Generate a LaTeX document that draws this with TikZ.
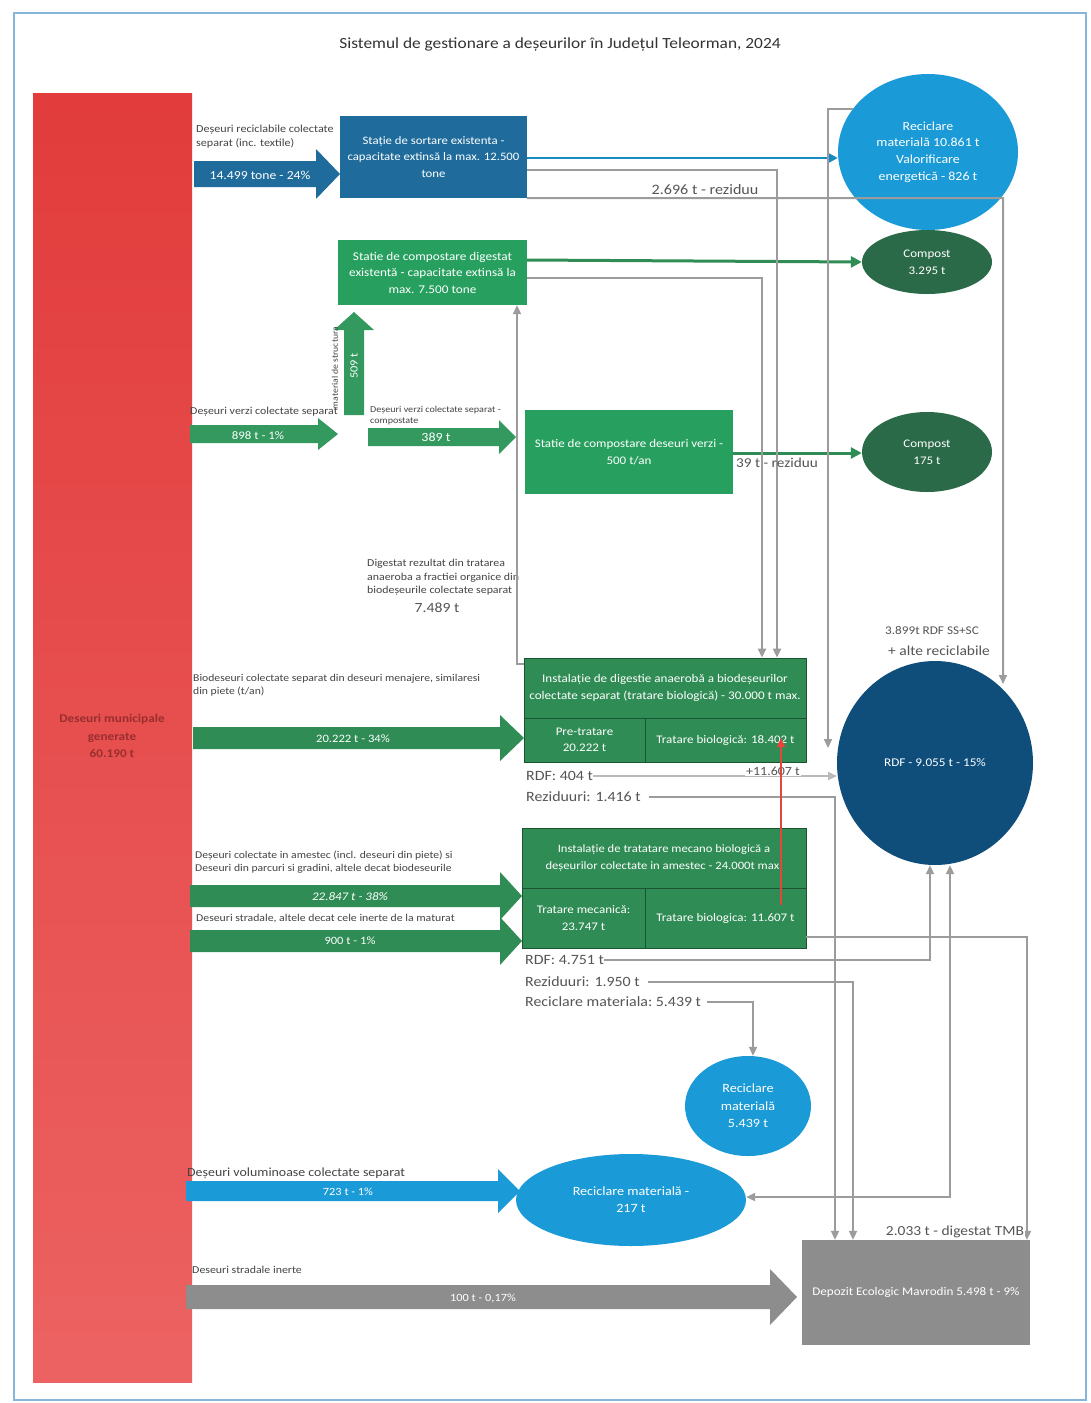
\documentclass[tikz,border=0pt]{standalone}
\usepackage{fontspec}
\setmainfont{Carlito}[FakeStretch=1.12]
\usetikzlibrary{shapes.geometric,arrows.meta,calc}
\definecolor{redA}{HTML}{E23C3C}
\definecolor{redB}{HTML}{EC6262}
\definecolor{redtxt}{HTML}{9A2E2E}
\definecolor{dkblue}{HTML}{1F6C9C}
\definecolor{ltblue}{HTML}{1A9AD6}
\definecolor{rdfblue}{HTML}{0F4E7B}
\definecolor{grA}{HTML}{27A05F}
\definecolor{grB}{HTML}{2F8C54}
\definecolor{grArrow}{HTML}{33995E}
\definecolor{grDark}{HTML}{2B6A48}
\definecolor{grayBox}{HTML}{8D8D8D}
\definecolor{conn}{HTML}{9C9C9C}
\definecolor{lbl}{HTML}{555555}
\definecolor{redArr}{HTML}{E5463C}
\definecolor{frame}{HTML}{86B6DA}
\newcommand{\fatarrowh}[7]{%
  \fill[#1] (#2,#5-#6) -- (#3,#5-#6) -- (#3,#5-#7) -- (#4,#5) -- (#3,#5+#7) -- (#3,#5+#6) -- (#2,#5+#6) -- cycle;}
\newcommand{\fs}[2]{\fontsize{#1}{#2}\selectfont}
\begin{document}
\begin{tikzpicture}[x=1pt,y=-1pt,
  boxtxt/.style={text=white,align=center,font=\fs{11.6}{16.5},inner sep=0pt},
  circ/.style={ellipse,inner sep=0pt,text=white,align=center,font=\fs{12.4}{16.7}},
  small/.style={text=lbl!80!black,font=\fs{10.6}{13.5},inner sep=0pt,align=left},
  flow/.style={text=lbl,font=\fs{14.2}{16},inner sep=0pt},
  arrtxt/.style={text=white,font=\fs{11.4}{13},inner sep=0pt},
  cline/.style={draw=conn,line width=2pt},
  carr/.style={cline,-{Triangle[width=8pt,length=9pt]}},
  cab/.style={cline,{Triangle[width=8pt,length=9pt]}-{Triangle[width=8pt,length=9pt]}},
  cell/.style={draw=grB!60!black,line width=0.8pt,fill=grB,inner sep=0pt,text=white,align=center,font=\fs{11.6}{16.5}}
]
\useasboundingbox (0,0) rectangle (1090,1403);
\fill[white] (0,0) rectangle (1090,1403);
\draw[frame,line width=1.6pt] (14,13) rectangle (1086,1400);

% title
\node[text=black!80,font=\fs{15.5}{18}] (title) at (560,45) {Sistemul de gestionare a deșeurilor în Județul Teleorman, 2024};

% red bar
\node[rectangle,minimum width=159pt,minimum height=1289pt,inner sep=0pt,top color=redA,bottom color=redB,draw=none] (bar) at (112.5,737.5) {};
\node[text=redtxt,align=center,font=\bfseries\fs{11.8}{17.5}] (bartext) at (112,736) {Deseuri municipale\\generate\\60.190 t};

% ---------- boxes ----------
\node[rectangle,fill=dkblue,minimum width=187pt,minimum height=82pt,boxtxt,font=\fs{11.4}{16.5}] (sort) at (433.5,157) {Stație de sortare existenta -\\capacitate extinsă la max. 12.500\\tone};
\node[rectangle,fill=grA,minimum width=189pt,minimum height=65pt,boxtxt,font=\fs{11.8}{16.5}] (dig) at (432.5,272.5) {Statie de compostare digestat\\existentă - capacitate extinsă la\\max. 7.500 tone};
\node[rectangle,fill=grA,minimum width=208pt,minimum height=84pt,boxtxt] (verzi) at (629,452) {Statie de compostare deseuri verzi -\\500 t/an};

% anaerobic digestion
\node[cell,minimum width=282pt,minimum height=60pt,font=\fs{11.7}{17}] (ad) at (665,688) {Instalație de digestie anaerobă a biodeșeurilor\\colectate separat (tratare biologică) - 30.000 t max.};
\node[cell,minimum width=121pt,minimum height=44pt] (pre) at (584.5,740) {Pre-tratare\\20.222 t};
\node[cell,minimum width=161pt,minimum height=44pt] (bio1) at (725.5,740) {Tratare biologică: 18.402 t};

% TMB
\node[cell,minimum width=284pt,minimum height=60pt,font=\fs{11.3}{16.5}] (tmb) at (664,858) {Instalație de tratatare mecano biologică a\\deșeurilor colectate in amestec - 24.000t max.};
\node[cell,minimum width=123pt,minimum height=60pt] (mec) at (583.5,918) {Tratare mecanică:\\23.747 t};
\node[cell,minimum width=161pt,minimum height=60pt] (bio2) at (725.5,918) {Tratare biologica: 11.607 t};

% depozit
\node[rectangle,fill=grayBox,minimum width=228pt,minimum height=105pt,boxtxt,font=\fs{11.7}{14}] (dep) at (916,1292.5) {Depozit Ecologic Mavrodin 5.498 t - 9\%};

% ---------- circles ----------
\node[circ,fill=ltblue,minimum width=180pt,minimum height=156pt] (rec1) at (928,152) {Reciclare\\materială 10.861 t\\Valorificare\\energetică - 826 t};
\node[circ,fill=grDark,minimum width=130pt,minimum height=64pt,font=\fs{11.6}{17}] (comp1) at (927,262) {Compost\\3.295 t};
\node[circ,fill=grDark,minimum width=130pt,minimum height=80pt,font=\fs{11.6}{17}] (comp2) at (927,452) {Compost\\175 t};
\node[circ,fill=rdfblue,minimum width=196pt,minimum height=204pt,font=\fs{11.8}{14}] (rdf) at (935,763) {RDF - 9.055 t - 15\%};
\node[circ,fill=ltblue,minimum width=126pt,minimum height=100pt,font=\fs{12.6}{17.5}] (rec2) at (748,1106) {Reciclare\\materială\\5.439 t};
\node[circ,fill=ltblue,minimum width=230pt,minimum height=92pt,font=\fs{12.6}{17}] (rec3) at (631,1200) {Reciclare materială -\\217 t};

% ---------- fat arrows ----------
\fatarrowh{dkblue}{194}{316}{340}{174}{13}{25}
\node[arrtxt,font=\fs{12.2}{14}] (a1) at (260,175) {14.499 tone - 24\%};
\node[small,anchor=north west,font=\fs{10.8}{13.5}] (a1l) at (196,125) {Deșeuri reciclabile colectate\\separat (inc. textile)};

% upward arrow 509 t
\fill[grArrow] (344,415) -- (344,330) -- (334,330) -- (354,312) -- (374,330) -- (364,330) -- (364,415) -- cycle;
\node[arrtxt,rotate=90,font=\fs{11}{13}] (a2) at (354,366) {509 t};
\node[small,rotate=90,font=\fs{8.6}{10}] (a2l) at (335,368) {material de structura};

\fatarrowh{grArrow}{190}{318}{338}{434}{9}{16}
\node[arrtxt,font=\fs{11.5}{13}] (a3) at (258,436) {898 t - 1\%};
\node[small,font=\fs{10.6}{12},anchor=west] (a3l) at (190,412) {Deșeuri verzi colectate separat};

\fatarrowh{grArrow}{368}{499}{516}{437}{9}{17}
\node[arrtxt,font=\fs{12.5}{13}] (a4) at (436,437) {389 t};
\node[small,anchor=north west,font=\fs{9}{11.5}] (a4l) at (370,406) {Deșeuri verzi colectate separat -\\compostate};

\fatarrowh{grB}{193}{500}{524}{738}{11}{23}
\node[arrtxt,font=\fs{11.3}{13}] (a5) at (353,739) {20.222 t - 34\%};
\node[small,anchor=north west,font=\fs{10.4}{13}] (a5l) at (193,674) {Biodeseuri colectate separat din deseuri menajere, similaresi\\din piete (t/an)};

\fatarrowh{grB}{190}{500}{522}{896}{11}{24}
\node[arrtxt,font=\itshape\fs{11.6}{13}] (a6) at (350,897) {22.847 t - 38\%};
\node[small,anchor=north west,font=\fs{10.4}{13}] (a6l) at (195,851) {Deșeuri colectate in amestec (incl. deseuri din piete) si\\Deseuri din parcuri si gradini, altele decat biodeseurile};

\fatarrowh{grB}{190}{500}{522}{941}{11}{24}
\node[arrtxt,font=\fs{11.2}{13}] (a7) at (350,941) {900 t - 1\%};
\node[small,anchor=west,font=\fs{10.5}{12}] (a7l) at (196,919) {Deseuri stradale, altele decat cele inerte de la maturat};

\fatarrowh{ltblue}{186}{498}{520}{1191}{10}{22}
\node[arrtxt,font=\fs{11}{13}] (a8) at (348,1192) {723 t - 1\%};
\node[small,anchor=west,font=\fs{12.4}{14}] (a8l) at (187,1173) {Deșeuri voluminoase colectate separat};

\fatarrowh{grayBox}{186}{770}{797}{1297}{12}{28}
\node[arrtxt,font=\fs{11}{13}] (a9) at (483,1298) {100 t - 0,17\%};
\node[small,anchor=west,font=\fs{10.6}{12}] (a9l) at (192,1270) {Deseuri stradale inerte};

% ---------- colored thin arrows ----------
\draw[draw=ltblue!90!black,line width=2.6pt,-{Triangle[width=10pt,length=10pt]}] (sort.east |- 0,158) -- (rec1.west |- 0,158);
\draw[draw=grB,line width=3pt,-{Triangle[width=11pt,length=11pt]}] (dig.east |- 0,260) -- (comp1.west);
\draw[draw=grB,line width=3pt,-{Triangle[width=11pt,length=11pt]}] (verzi.east |- 0,453) -- (comp2.west |- 0,453);

% ---------- text labels for flows ----------
\node[flow,anchor=west] (rdf404) at (526,776) {RDF: 404 t};
\node[flow,anchor=west] (rez1416) at (526,797) {Reziduuri: 1.416 t};
\node[flow,anchor=west] (rdf4751) at (525,960) {RDF: 4.751 t};
\node[flow,anchor=west] (rez1950) at (525,982) {Reziduuri: 1.950 t};
\node[flow,anchor=west] (recmat) at (525,1002) {Reciclare materiala:\ 5.439 t};
\node[small,anchor=north west,font=\fs{10.6}{13.5}] (digl) at (367,559) {Digestat rezultat din tratarea\\anaeroba a fractiei organice din\\biodeșeurile colectate separat};
\node[flow,font=\fs{14}{16}] (digt) at (437,608) {7.489 t};
\node[flow,font=\fs{11.8}{14}] (rdfl1) at (932,631) {3.899t RDF SS+SC};
\node[flow,font=\fs{13.8}{16}] (rdfl2) at (939,651) {+ alte reciclabile};

% ---------- gray connectors ----------
\draw[carr] (sort.east |- 0,170) -- (777,170) -- (777,0 |- ad.north);
\draw[carr] (sort.south east) -- (1003,198) -- (1003,684);
\node[flow,fill=white,inner sep=1pt,font=\fs{14.4}{16}] (l2696) at (705,190) {2.696 t - reziduu};
\draw[carr] (dig.east |- 0,278) -- (762,278) -- (762,0 |- ad.north);
\draw[carr] (rec1.150) -- (828,0 |- rec1.150) -- (828,748);
\draw[carr] (ad.west |- 0,664) -- (517,664) -- (517,0 |- dig.south);
\draw[carr,draw=conn!70] (rdf404.east) -- (837,776);
\node[flow,font=\fs{12.5}{14},fill=white,inner sep=1pt] (l11607) at (773,771) {+11.607 t};
\draw[carr] (rez1416.east) ++(8,0) -- (835,797) -- (835,0 |- dep.north);
\draw[carr] (rdf4751.east) -- (930,960) -- (930,0 |- rdf.south);
\draw[carr] (rez1950.east) ++(8,0) -- (853,982) -- (853,0 |- dep.north);
\draw[carr] (recmat.east) ++(6,0) -- (753,1002) -- (753,0 |- rec2.north);
\draw[carr] (bio2.east |- 0,937) -- (1027,937) -- (1027,0 |- dep.north);
\coordinate (c217) at (950,1197);
\draw[cab] (rec3.east |- c217) -- (c217) -- (c217 |- rdf.south);
\node[flow,fill=white,inner sep=1pt,font=\fs{13.8}{16}] (l2033) at (955,1232) {2.033 t - digestat TMB};
\node[flow,inner sep=1pt,font=\fs{13.6}{16}] (l39) at (777,463) {39 t - reziduu};

% red arrow
\draw[draw=redArr,line width=2pt,-{Triangle[width=8pt,length=9pt]}] (781,905) -- (781,738);
\end{tikzpicture}
\end{document}
